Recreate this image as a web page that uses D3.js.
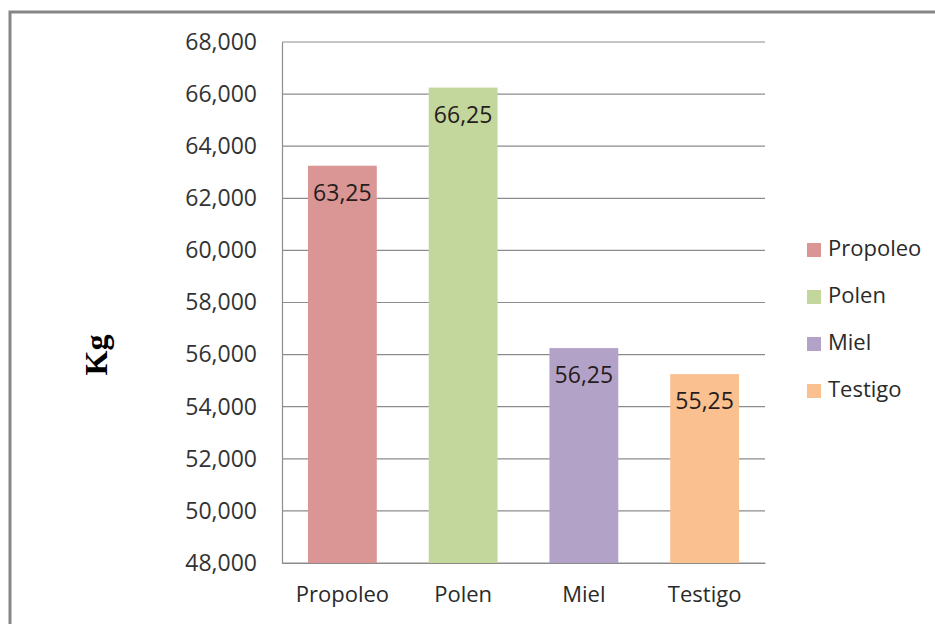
<!DOCTYPE html>
<html>
<head>
<meta charset="utf-8">
<script src="https://cdn.jsdelivr.net/npm/d3@7"></script>
<style>
  body { margin: 0; background: #fff; }
  svg { display: block; font-family: "Open Sans", "Noto Sans", sans-serif; }
</style>
</head>
<body>
<svg id="chart" width="935" height="624"></svg>
<script>
const categories = ['Propoleo', 'Polen', 'Miel', 'Testigo'];
const values = [63.25, 66.25, 56.25, 55.25];
const colors = ['#d99694', '#c3d69b', '#b3a2c7', '#fac090'];
const yTicks = [48, 50, 52, 54, 56, 58, 60, 62, 64, 66, 68];

const svg = d3.select('#chart');
const W = 935, H = 624;
const plot = { left: 282, right: 765, top: 42, bottom: 563 };

// frame around the chart
svg.append('rect')
  .attr('x', 10).attr('y', 12)
  .attr('width', W + 20).attr('height', H + 20)
  .attr('fill', 'none').attr('stroke', '#868686').attr('stroke-width', 3);

const x = d3.scaleBand()
  .domain(categories)
  .range([plot.left, plot.right])
  .paddingInner(0.43).paddingOuter(0.215);

const y = d3.scaleLinear()
  .domain([48, 68])
  .range([plot.bottom, plot.top]);

const tickFmt = v => Math.floor(v) + ',000';
const valFmt = v => d3.format('.2f')(v).replace('.', ',');

// gridlines
svg.append('g')
  .selectAll('line')
  .data(yTicks)
  .join('line')
  .attr('x1', plot.left).attr('x2', plot.right)
  .attr('y1', d => y(d)).attr('y2', d => y(d))
  .attr('stroke', '#8c8c8c').attr('stroke-width', 1.2);

// y axis
const yAxis = svg.append('g')
  .attr('transform', `translate(${plot.left},0)`)
  .call(d3.axisLeft(y).tickValues(yTicks).tickFormat(tickFmt).tickSize(0).tickPadding(25));
yAxis.select('.domain').attr('stroke', '#8c8c8c').attr('stroke-width', 1.2);
yAxis.selectAll('text')
  .attr('font-size', 23).attr('fill', '#333')
  .attr('font-family', '"Open Sans", "Noto Sans", sans-serif');

// bars
svg.append('g')
  .selectAll('rect')
  .data(categories)
  .join('rect')
  .attr('x', d => x(d))
  .attr('width', x.bandwidth())
  .attr('y', (d, i) => y(values[i]))
  .attr('height', (d, i) => y(48) - y(values[i]))
  .attr('fill', (d, i) => colors[i]);

// value labels
svg.append('g')
  .selectAll('text')
  .data(categories)
  .join('text')
  .attr('x', d => x(d) + x.bandwidth() / 2)
  .attr('y', (d, i) => y(values[i]) + 29)
  .attr('text-anchor', 'middle')
  .attr('dominant-baseline', 'middle')
  .attr('font-size', 23).attr('fill', '#261c1c')
  .text((d, i) => valFmt(values[i]));

// x axis
const xAxis = svg.append('g')
  .attr('transform', `translate(0,${plot.bottom})`)
  .call(d3.axisBottom(x).tickSize(0).tickPadding(23));
xAxis.select('.domain').attr('stroke', '#8c8c8c').attr('stroke-width', 1.2);
xAxis.selectAll('text')
  .attr('font-size', 22).attr('fill', '#2a2a2a')
  .attr('font-family', '"Open Sans", "Noto Sans", sans-serif');

// y title
svg.append('text')
  .attr('transform', 'translate(100,355) rotate(-90)')
  .attr('text-anchor', 'middle')
  .attr('dominant-baseline', 'middle')
  .attr('font-family', '"Liberation Serif", "DejaVu Serif", serif')
  .attr('font-weight', 'bold').attr('font-size', 32)
  .attr('fill', '#000')
  .text('Kg');

// legend
const legend = svg.append('g')
  .selectAll('g')
  .data(categories)
  .join('g')
  .attr('transform', (d, i) => `translate(807,${250 + i * 47})`);
legend.append('rect')
  .attr('x', 0).attr('y', -7).attr('width', 14).attr('height', 14)
  .attr('fill', (d, i) => colors[i]);
legend.append('text')
  .attr('x', 21).attr('y', 0)
  .attr('dominant-baseline', 'middle')
  .attr('font-size', 22).attr('fill', '#2a2a2a')
  .text(d => d);
</script>
</body>
</html>
